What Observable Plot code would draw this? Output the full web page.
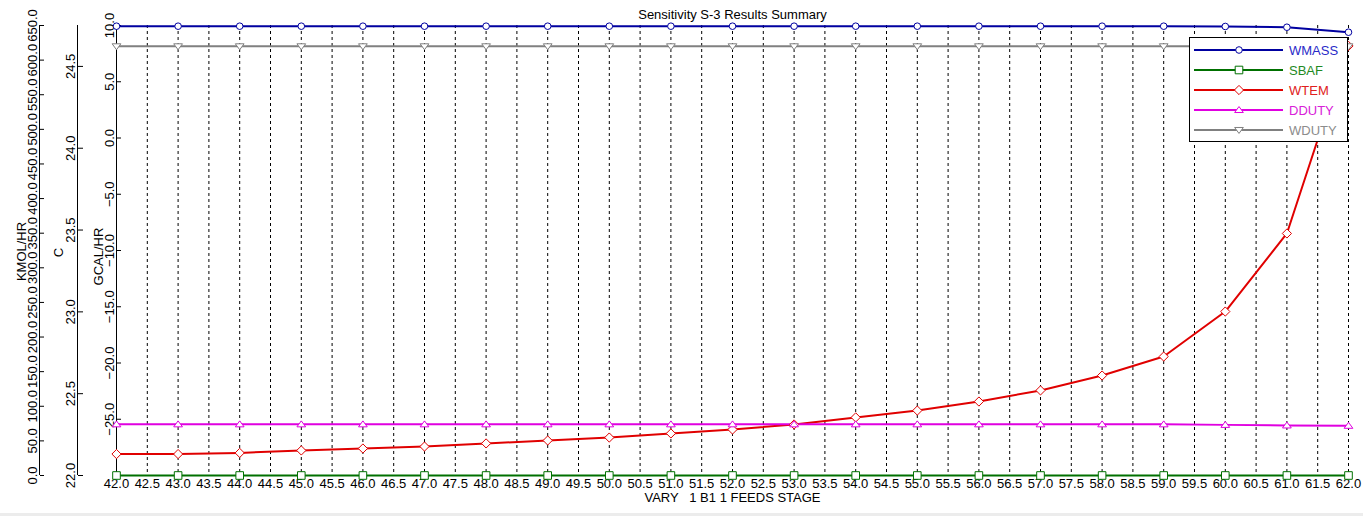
<!DOCTYPE html>
<html><head><meta charset="utf-8">
<script src="https://cdn.jsdelivr.net/npm/d3@7"></script>
<script src="https://cdn.jsdelivr.net/npm/@observablehq/plot@0.6"></script>
<style>
html,body{margin:0;padding:0;background:#ececec;}
#wrap{position:relative;width:1363px;height:513px;background:#fff;overflow:hidden;}
#legend{position:absolute;left:1189px;top:37px;width:157px;height:103px;border:1px solid #000;background:#fff;}
svg text{white-space:pre;}
</style></head><body><div id="wrap"></div>
<script>
// ---- data ----
const stages = [42,43,44,45,46,47,48,49,50,51,52,53,54,55,56,57,58,59,60,61,62];
const wmass  = [649,649,649,649,649,649,649,649,649,649,649,649,649,649,649,649,649,649,648.6,647.5,640.3]; // KMOL/HR
const sbaf   = [0,0,0,0,0,0,0,0,0,0,0,0,0,0,0,0,0,0,0,0,0]; // KMOL/HR
const wtem   = [22.131,22.131,22.138,22.153,22.165,22.177,22.196,22.214,22.232,22.257,22.281,22.312,22.355,22.397,22.452,22.520,22.611,22.727,23.002,23.479,24.625]; // C
const dduty  = [-25.45,-25.45,-25.45,-25.45,-25.45,-25.45,-25.45,-25.45,-25.45,-25.45,-25.45,-25.45,-25.45,-25.45,-25.45,-25.45,-25.45,-25.45,-25.5,-25.55,-25.58]; // GCAL/HR
const wduty  = [8.15,8.15,8.15,8.15,8.15,8.15,8.15,8.15,8.15,8.15,8.15,8.15,8.15,8.15,8.15,8.15,8.15,8.15,8.15,8.15,8.15]; // GCAL/HR

const xTicks    = [42,42.5,43,43.5,44,44.5,45,45.5,46,46.5,47,47.5,48,48.5,49,49.5,50,50.5,51,51.5,52,52.5,53,53.5,54,54.5,55,55.5,56,56.5,57,57.5,58,58.5,59,59.5,60,60.5,61,61.5,62];
const kmolTicks = [0,50,100,150,200,250,300,350,400,450,500,550,600,650];
const cTicks    = [22.0,22.5,23.0,23.5,24.0,24.5];
const gcalTicks = [-25,-20,-15,-10,-5,0,5,10];

const seriesNames  = ["WMASS","SBAF","WTEM","DDUTY","WDUTY"];
const seriesColors = ["#0000a0","#007000","#e00000","#e000e0","#808080"];
const textColors   = ["#2a2ac8","#1f8a1f","#e02020","#d820d8","#8c8c8c"];

// ---- scales for secondary axes (mapped onto GCAL/HR primary scale) ----
const gcalDomain = [-30, 10];
const kmolToY = d3.scaleLinear([0, 650], gcalDomain);
const cToY    = d3.scaleLinear([22, 24.75], gcalDomain);

// ---- custom symbols ----
const sym = {
  circle:  {draw(c, s){const r=Math.sqrt(s/Math.PI); c.moveTo(r,0); c.arc(0,0,r,0,2*Math.PI);}},
  square:  {draw(c, s){const r=Math.sqrt(s/Math.PI); c.rect(-r,-r,2*r,2*r);}},
  diamond: {draw(c, s){const r=Math.sqrt(s/Math.PI); c.moveTo(0,-r); c.lineTo(r,0); c.lineTo(0,r); c.lineTo(-r,0); c.closePath();}},
  triUp:   {draw(c, s){const r=Math.sqrt(s/Math.PI); c.moveTo(0,-r*0.75); c.lineTo(r*0.95,r*0.55); c.lineTo(-r*0.95,r*0.55); c.closePath();}},
  triDown: {draw(c, s){const r=Math.sqrt(s/Math.PI); c.moveTo(0,r*0.75); c.lineTo(r*0.95,-r*0.55); c.lineTo(-r*0.95,-r*0.55); c.closePath();}}
};
const symbols = [sym.circle, sym.square, sym.diamond, sym.triUp, sym.triDown];
const radii   = [3.3, 3.8, 4.6, 4.6, 4.6];

const rows = (vals, map) => stages.map((x, i) => ({x, y: map(vals[i])}));
const seriesData = [
  rows(wmass, kmolToY),
  rows(sbaf, kmolToY),
  rows(wtem, cToY),
  rows(dduty, d => d),
  rows(wduty, d => d)
];

const f1 = d3.format(".1f");
const font = 13;

const marks = [
  Plot.gridX(xTicks, {stroke: "#000", strokeOpacity: 1, strokeDasharray: "3,3"}),
  Plot.ruleY([gcalDomain[0]], {stroke: "#000"}),
  // axis lines
  Plot.ruleX([42], {y1: gcalDomain[0], y2: gcalDomain[1], stroke: "#000"}),
  Plot.ruleX([42], {y1: gcalDomain[0], y2: gcalDomain[1], stroke: "#000", dx: -39}),
  Plot.ruleX([42], {y1: gcalDomain[0], y2: gcalDomain[1], stroke: "#000", dx: -77}),
  // GCAL/HR axis
  Plot.axisY(gcalTicks, {anchor: "right", tickSize: 4, dx: -1232, tickFormat: () => "", label: null}),
  Plot.axisY(gcalTicks, {anchor: "left", tickSize: 0, tickPadding: 3, tickRotate: -90, tickFormat: f1, fontSize: font, label: null}),
  // C axis
  Plot.axisY(cTicks.map(cToY), {anchor: "right", tickSize: 5, dx: -1232 - 39, tickFormat: () => "", label: null}),
  Plot.axisY(cTicks.map(cToY), {anchor: "left", tickSize: 0, tickPadding: 3, tickRotate: -90, dx: -39, tickFormat: d => f1(cToY.invert(d)), fontSize: font, label: null}),
  // KMOL/HR axis
  Plot.axisY(kmolTicks.map(kmolToY), {anchor: "right", tickSize: 4, dx: -1232 - 77, tickFormat: () => "", label: null}),
  Plot.axisY(kmolTicks.map(kmolToY), {anchor: "left", tickSize: 0, tickPadding: 3, tickRotate: -90, dx: -77, tickFormat: d => f1(kmolToY.invert(d)), fontSize: font, label: null}),
  // x axis
  Plot.axisX(xTicks, {tickSize: 0, tickPadding: 3, tickFormat: f1, fontSize: font, label: null}),
  // titles
  Plot.text(["KMOL/HR"], {frameAnchor: "left", rotate: -90, dx: -91, dy: 1, textAnchor: "middle", lineAnchor: "bottom", fontSize: font}),
  Plot.text(["C"], {frameAnchor: "left", rotate: -90, dx: -54, dy: 2, textAnchor: "middle", lineAnchor: "bottom", fontSize: font}),
  Plot.text(["GCAL/HR"], {frameAnchor: "left", rotate: -90, dx: -14, dy: 6, textAnchor: "middle", lineAnchor: "bottom", fontSize: font}),
  Plot.text(["Sensitivity S-3 Results Summary"], {frameAnchor: "top", dy: -11, textAnchor: "middle", lineAnchor: "middle", fontSize: font}),
  Plot.text(["VARY   1 B1 1 FEEDS STAGE"], {frameAnchor: "bottom", dy: 22, textAnchor: "middle", lineAnchor: "middle", fontSize: font})
];
seriesData.forEach((d, i) => {
  marks.push(Plot.line(d, {x: "x", y: "y", stroke: seriesColors[i], strokeWidth: 2}));
});
seriesData.forEach((d, i) => {
  marks.push(Plot.dot(d, {x: "x", y: "y", symbol: symbols[i], r: radii[i], stroke: seriesColors[i], fill: "#fff", strokeWidth: 1}));
});

const chart = Plot.plot({
  width: 1363, height: 513,
  marginLeft: 116, marginRight: 15, marginTop: 25, marginBottom: 38,
  style: {fontFamily: "'Liberation Sans', Arial, sans-serif", fontSize: "13px", background: "#fff", color: "#000"},
  x: {domain: [42, 62]},
  y: {domain: gcalDomain},
  marks
});
const wrap = document.getElementById("wrap");
wrap.appendChild(chart);

// ---- legend ----
const leg = document.createElement("div");
leg.id = "legend";
wrap.appendChild(leg);
const ls = d3.select(leg).append("svg").attr("width", 157).attr("height", 103)
  .style("font-family", "'Liberation Sans', Arial, sans-serif").style("font-size", "13px");
seriesNames.forEach((name, i) => {
  const y = 12 + i * 20;
  ls.append("line").attr("x1", 4).attr("x2", 93).attr("y1", y).attr("y2", y)
    .attr("stroke", seriesColors[i]).attr("stroke-width", 2);
  const p = d3.path(); symbols[i].draw(p, Math.PI * radii[i] * radii[i]);
  ls.append("path").attr("d", p.toString()).attr("transform", `translate(49,${y})`)
    .attr("fill", "#fff").attr("stroke", seriesColors[i]);
  ls.append("text").attr("x", 99).attr("y", y).attr("dy", "0.35em").attr("fill", textColors[i]).text(name);
});
</script></body></html>
